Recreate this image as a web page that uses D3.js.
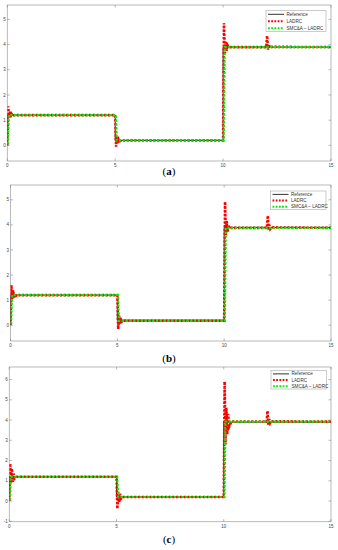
<!DOCTYPE html>
<html>
<head>
<meta charset="utf-8">
<script src="https://cdn.jsdelivr.net/npm/d3@7"></script>
<style>
  body { margin: 0; background: #fff; }
  .tick-label { font-family: "Liberation Sans", Arial, sans-serif; font-size: 4.5px; fill: #444; }
  .legend-text { font-family: "Liberation Sans", Arial, sans-serif; font-size: 4.6px; fill: #333; }
  .caption { font-family: "Liberation Serif", "Times New Roman", serif; font-size: 11px; fill: #000; }
</style>
</head>
<body>
<svg id="chart"></svg>
<script>
let w = 338;
let h = 550;

// series names and captions
let seriesNames = ["Reference", "LADRC", "SMC&A \u2013 LADRC"];
let captions = ["a", "b", "c"];
let xTicks = [0, 5, 10, 15];
let yTicksAB = [0, 1, 2, 3, 4, 5];
let yTicksC = [-1, 0, 1, 2, 3, 4, 5, 6];

// reference step signal (same in every panel)
let refTime = [0, 0, 5, 5, 10, 10, 15];
let refValue = [0, 1.2, 1.2, 0.2, 0.2, 3.9, 3.9];

// SMC&A-LADRC response
let smcTime = [0, 0.03, 0.07, 0.12, 5, 5.03, 5.08, 5.12, 10, 10.03, 10.08, 10.12, 15];
let smcValueA = [0, 0, 1.2, 1.2, 1.2, 1.2, 0.2, 0.2, 0.2, 0.2, 3.9, 3.9, 3.9];
let smcValueB = [0, 0, 1.2, 1.2, 1.2, 1.2, 0.17, 0.17, 0.17, 0.17, 3.88, 3.88, 3.88];
let smcValueC = [0, 0, 1.2, 1.2, 1.2, 1.2, 0.2, 0.2, 0.2, 0.2, 3.92, 3.92, 3.92];

// LADRC response
let ladrcTime = [0, 0.04, 0.08, 0.12, 0.16, 0.2, 0.26, 0.35,
  5, 5.04, 5.08, 5.12, 5.16, 5.22, 5.3,
  10, 10.04, 10.08, 10.12, 10.16, 10.2, 10.26, 10.35,
  12, 12.04, 12.08, 12.12, 12.16, 12.22, 15];
let ladrcValueA = [0, 1.55, 1.1, 1.35, 1.12, 1.25, 1.18, 1.2,
  1.2, -0.05, 0.35, 0.1, 0.25, 0.17, 0.2,
  0.2, 4.85, 3.65, 4.1, 3.75, 3.98, 3.88, 3.9,
  3.9, 4.35, 3.8, 4.0, 3.86, 3.91, 3.9];
let ladrcValueB = [0, 1.6, 1.05, 1.4, 1.1, 1.27, 1.17, 1.2,
  1.2, -0.15, 0.4, 0.05, 0.28, 0.14, 0.18,
  0.18, 4.92, 3.6, 4.15, 3.72, 4.0, 3.85, 3.88,
  3.88, 4.37, 3.78, 4.0, 3.84, 3.9, 3.88];
let ladrcValueC = [0, 1.85, 0.9, 1.6, 0.95, 1.35, 1.12, 1.2,
  1.2, -0.38, 0.45, -0.05, 0.35, 0.12, 0.2,
  0.2, 5.9, 2.8, 4.6, 3.3, 4.3, 3.7, 3.92,
  3.92, 4.45, 3.75, 4.05, 3.85, 3.94, 3.92];

let panels = [
  { left: 7.3, right: 331, top: 5, bottom: 161, ylim: [-0.62, 5.57], yTicks: yTicksAB,
    smc: smcValueA, ladrc: ladrcValueA, legend: [266, 10.5, 60, 21], capY: 175 },
  { left: 10.5, right: 331, top: 185, bottom: 341, ylim: [-0.63, 5.59], yTicks: yTicksAB,
    smc: smcValueB, ladrc: ladrcValueB, legend: [270.5, 191, 55.5, 18.5], capY: 362 },
  { left: 9.3, right: 331, top: 367, bottom: 521.7, ylim: [-1.02, 6.62], yTicks: yTicksC,
    smc: smcValueC, ladrc: ladrcValueC, legend: [271, 370.5, 55.5, 18.5], capY: 543 }
];

let svg = d3.select("#chart").attr("width", w).attr("height", h);

let colors = ["#000", "#ff0000", "#00ee00"];

panels.forEach(function (p, i) {
  let xScale = d3.scaleLinear().domain([0, 15]).range([p.left, p.right]);
  let yScale = d3.scaleLinear().domain(p.ylim).range([p.bottom, p.top]);
  let g = svg.append("g");

  g.append("clipPath").attr("id", "clip" + i)
    .append("rect")
    .attr("x", p.left).attr("y", p.top)
    .attr("width", p.right - p.left).attr("height", p.bottom - p.top);

  // box
  g.append("rect")
    .attr("x", p.left).attr("y", p.top)
    .attr("width", p.right - p.left).attr("height", p.bottom - p.top)
    .attr("fill", "none").attr("stroke", "#a8a8a8").attr("stroke-width", 0.8);

  // ticks: inward on all four sides
  xTicks.forEach(function (t) {
    let x = xScale(t);
    g.append("line").attr("x1", x).attr("x2", x).attr("y1", p.bottom).attr("y2", p.bottom - 2.5)
      .attr("stroke", "#888").attr("stroke-width", 0.6);
    g.append("line").attr("x1", x).attr("x2", x).attr("y1", p.top).attr("y2", p.top + 2.5)
      .attr("stroke", "#888").attr("stroke-width", 0.6);
    g.append("text").attr("class", "tick-label")
      .attr("x", x).attr("y", p.bottom + 6)
      .attr("text-anchor", "middle").text(t);
  });
  p.yTicks.forEach(function (t) {
    let y = yScale(t);
    g.append("line").attr("x1", p.left).attr("x2", p.left + 2.5).attr("y1", y).attr("y2", y)
      .attr("stroke", "#888").attr("stroke-width", 0.6);
    g.append("line").attr("x1", p.right).attr("x2", p.right - 2.5).attr("y1", y).attr("y2", y)
      .attr("stroke", "#888").attr("stroke-width", 0.6);
    g.append("text").attr("class", "tick-label")
      .attr("x", p.left - 1.5).attr("y", y + 1.6)
      .attr("text-anchor", "end").text(t);
  });

  let line = d3.line()
    .x(function (d) { return xScale(d[0]); })
    .y(function (d) { return yScale(d[1]); });

  let plot = g.append("g").attr("clip-path", "url(#clip" + i + ")");

  plot.append("path")
    .datum(d3.zip(refTime, refValue))
    .attr("d", line)
    .attr("fill", "none").attr("stroke", colors[0]).attr("stroke-width", 0.9);

  plot.append("path")
    .datum(d3.zip(ladrcTime, p.ladrc))
    .attr("d", line)
    .attr("fill", "none").attr("stroke", colors[1]).attr("stroke-width", 2.6)
    .attr("stroke-dasharray", "2.2,1.6");

  plot.append("path")
    .datum(d3.zip(smcTime, p.smc))
    .attr("d", line)
    .attr("fill", "none").attr("stroke", colors[2]).attr("stroke-width", 2.2)
    .attr("stroke-dasharray", "2.2,1.6").attr("stroke-dashoffset", 1.9);

  // legend
  let lg = g.append("g");
  let lx = p.legend[0], ly = p.legend[1], lw = p.legend[2], lh = p.legend[3];
  lg.append("rect").attr("x", lx).attr("y", ly).attr("width", lw).attr("height", lh)
    .attr("fill", "#fff").attr("stroke", "#a8a8a8").attr("stroke-width", 0.6);
  seriesNames.forEach(function (name, k) {
    let yy = ly + lh * (k + 0.5) / 3 + 0.3;
    let l = lg.append("line")
      .attr("x1", lx + 2).attr("x2", lx + 18).attr("y1", yy).attr("y2", yy)
      .attr("stroke", colors[k]);
    if (k === 0) l.attr("stroke-width", 0.8);
    else l.attr("stroke-width", 2).attr("stroke-dasharray", "1.8,1.4");
    lg.append("text").attr("class", "legend-text")
      .attr("x", lx + 20.5).attr("y", yy + 1.6).text(name);
  });

  // caption
  let cap = svg.append("text").attr("class", "caption")
    .attr("x", 169).attr("y", p.capY).attr("text-anchor", "middle");
  cap.append("tspan").text("(");
  cap.append("tspan").attr("font-weight", "bold").text(captions[i]);
  cap.append("tspan").text(")");
});
</script>
</body>
</html>
